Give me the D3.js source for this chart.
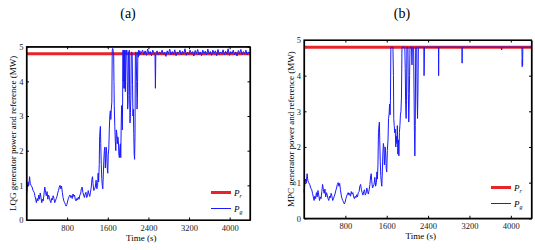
<!DOCTYPE html>
<html>
<head>
<meta charset="utf-8">
<script src="https://cdn.jsdelivr.net/npm/d3@7"></script>
<style>
  body { margin: 0; background: #fff; }
  svg, svg text { font-family: "Liberation Serif", "Tinos", "DejaVu Serif", serif; }
</style>
</head>
<body>
<svg id="chart" width="535" height="250"></svg>
<script>
// reference power (MW)
var refPower = 4.8;
var xTicks = [800, 1600, 2400, 3200, 4000];
var yTicks = [0, 1, 2, 3, 4, 5];

// low wind part, same in both runs
var lowTime = [0, 15, 30, 45, 60, 75, 90, 110, 130, 150, 165, 180, 195, 210, 225, 240, 255, 270, 285, 300,
  315, 330, 345, 360, 375, 390, 405, 420, 435, 450, 465, 480, 495, 510, 525, 540, 555, 570, 585, 600,
  615, 630, 645, 660, 675, 690, 705, 720, 735, 750, 765, 780, 795, 810, 825, 840, 855, 870, 885, 900,
  915, 930, 945, 960, 975, 990, 1005, 1020, 1035, 1050, 1065, 1080, 1095, 1110, 1125, 1140, 1155, 1170,
  1185, 1200, 1215, 1230, 1245, 1260, 1275, 1290, 1300, 1310, 1325, 1340, 1355, 1370, 1385];
var lowPower = [0.72, 0.95, 1.1, 1.0, 1.25, 1.05, 1.0, 0.95, 0.85, 0.8, 0.7, 0.6, 0.5, 0.62, 0.55, 0.72, 0.6, 0.78, 0.65, 0.5,
  0.6, 0.55, 0.75, 0.95, 0.8, 0.7, 0.82, 0.6, 0.72, 0.65, 0.55, 0.5, 0.62, 0.58, 0.7, 0.62, 0.5, 0.55, 0.62, 0.68,
  0.78, 0.85, 0.95, 1.0, 0.9, 0.98, 0.8, 0.65, 0.55, 0.5, 0.45, 0.4, 0.45, 0.55, 0.62, 0.68, 0.72, 0.65, 0.7, 0.62,
  0.75, 0.68, 0.72, 0.6, 0.55, 0.62, 0.58, 0.66, 0.6, 0.72, 0.75, 0.9, 0.95, 0.8, 0.72, 0.65, 0.75, 0.8,
  0.65, 0.7, 0.85, 0.75, 0.68, 0.8, 0.95, 1.2, 1.25, 1.05, 0.85, 0.9, 0.95, 1.15, 0.9];

// LQG run, after the low wind part
var lqgTime = [1400, 1410, 1420, 1432, 1440, 1448, 1455, 1462, 1472, 1482, 1492, 1502, 1512, 1522, 1532, 1542, 1552, 1560,
  1570, 1580, 1590, 1600, 1610, 1620, 1630, 1640, 1650, 1660, 1670, 1680, 1688, 1698, 1708, 1716, 1722, 1728, 1738,
  1748, 1758, 1768, 1778, 1788, 1798, 1808, 1818, 1828, 1838, 1848, 1856, 1864, 1872, 1880, 1886, 1892, 1900, 1906,
  1912, 1918, 1924, 1930, 1938, 1946, 1954, 1960, 1968, 1976, 1984, 1992, 2000, 2008, 2016, 2024, 2030, 2038, 2046,
  2054, 2062, 2072, 2080, 2088, 2096, 2104, 2112, 2120, 2128, 2136, 2144, 2152, 2160, 2168, 2176, 2184, 2192, 2200,
  2210, 2220, 2232, 2245, 2260, 2285, 2310, 2335, 2360, 2385, 2410, 2435, 2460, 2485, 2510, 2530, 2538, 2546, 2570,
  2595, 2620, 2645, 2670, 2695, 2720, 2745, 2770, 2795, 2820, 2845, 2870, 2895, 2920, 2945, 2970, 2995, 3020, 3045,
  3070, 3095, 3120, 3145, 3170, 3195, 3220, 3245, 3270, 3295, 3320, 3345, 3370, 3395, 3420, 3445, 3470, 3495, 3520,
  3545, 3570, 3595, 3620, 3645, 3670, 3695, 3720, 3745, 3770, 3795, 3820, 3845, 3870, 3895, 3920, 3945, 3970, 3995,
  4020, 4045, 4070, 4095, 4120, 4145, 4170, 4195, 4220, 4245, 4270, 4295, 4320, 4345, 4370, 4400];
var lqgPower = [1.0, 1.35, 1.1, 1.6, 2.4, 2.6, 2.7, 2.2, 1.6, 1.2, 1.0, 0.9, 1.3, 1.7, 2.0, 2.1, 1.5, 1.8,
  2.1, 1.9, 1.5, 1.35, 1.9, 2.05, 2.6, 3.0, 3.15, 2.9, 3.2, 3.4, 4.9, 4.95, 4.85, 4.8, 4.0, 3.3, 2.7,
  2.3, 2.0, 2.6, 2.5, 2.2, 2.4, 2.3, 1.9, 1.8, 2.1, 2.2, 1.8, 2.7, 3.3, 3.0, 2.6, 3.4, 4.9, 4.0,
  4.9, 3.8, 4.9, 3.8, 4.9, 3.7, 4.5, 4.9, 4.8, 4.9, 4.0, 3.2, 3.4, 4.85, 4.8, 4.9, 3.6, 2.8, 3.1,
  3.5, 4.8, 4.85, 4.8, 3.9, 3.0, 3.2, 2.5, 1.9, 1.75, 2.4, 4.8, 4.85, 4.8, 4.0, 3.2, 3.5, 4.85, 4.7,
  4.9, 4.75, 4.88, 4.78, 4.82, 4.9, 4.78, 4.88, 4.75, 4.93, 4.8, 4.86, 4.74, 4.9, 4.82, 4.78, 3.8, 4.8, 4.88,
  4.76, 4.85, 4.79, 4.9, 4.77, 4.84, 4.72, 4.88, 4.8, 4.93, 4.76, 4.86, 4.78, 4.91, 4.74, 4.85, 4.8, 4.9, 4.76,
  4.87, 4.79, 4.94, 4.75, 4.84, 4.78, 4.9, 4.8, 4.86, 4.73, 4.89, 4.8, 4.92, 4.77, 4.85, 4.74, 4.9, 4.8, 4.87,
  4.76, 4.93, 4.79, 4.86, 4.75, 4.9, 4.81, 4.88, 4.74, 4.92, 4.78, 4.85, 4.8, 4.91, 4.76, 4.87, 4.79, 4.94, 4.75,
  4.86, 4.8, 4.9, 4.77, 4.85, 4.73, 4.89, 4.8, 4.92, 4.77, 4.86, 4.79, 4.9, 4.76, 4.85, 4.8];

// MPC run, after the low wind part
var mpcTime = [1400, 1410, 1420, 1430, 1440, 1450, 1458, 1465, 1475, 1485, 1495, 1505, 1515, 1525, 1535, 1545, 1555, 1562,
  1570, 1580, 1590, 1600, 1612, 1625, 1635, 1645, 1655, 1665, 1672, 1680, 1720, 1730, 1736, 1745, 1755, 1765, 1775,
  1785, 1795, 1805, 1815, 1825, 1835, 1845, 1855, 1865, 1875, 1885, 1895, 1950, 1958, 1966, 1975, 1983, 1990, 2010,
  2018, 2026, 2034, 2042, 2050, 2080, 2088, 2096, 2120, 2128, 2136, 2144, 2152, 2160, 2180, 2188, 2196, 2204, 2212,
  2235, 2318, 2322, 2326, 2330, 2600, 2604, 2608, 3055, 3058, 3061, 3820, 3823, 3826, 4215, 4220, 4224, 4228, 4232, 4400];
var mpcPower = [1.0, 1.3, 1.1, 1.5, 2.4, 2.6, 2.7, 2.2, 1.6, 1.2, 1.0, 0.9, 1.3, 1.8, 2.1, 2.0, 1.5, 1.7,
  2.0, 1.8, 1.4, 1.3, 1.9, 2.2, 2.8, 2.9, 3.2, 2.9, 3.3, 4.8, 4.8, 4.0, 2.8, 2.6, 2.4, 2.5, 2.0,
  2.3, 2.1, 2.6, 1.8, 2.2, 1.75, 2.4, 2.6, 2.9, 3.0, 3.4, 4.8, 4.8, 4.2, 3.2, 2.8, 3.3, 4.8, 4.8,
  3.5, 2.7, 3.2, 4.0, 4.8, 4.8, 4.3, 4.8, 4.8, 3.6, 2.4, 1.75, 2.6, 4.8, 4.8, 3.4, 2.8, 3.6, 4.8,
  4.8, 4.8, 4.0, 4.3, 4.8, 4.8, 4.0, 4.8, 4.8, 4.35, 4.8, 4.8, 4.72, 4.8, 4.8, 4.25, 4.45, 4.3, 4.8, 4.8];

var svg = d3.select("#chart");
var serif = "'Liberation Serif', Tinos, 'DejaVu Serif', serif";

function drawPanel(opt) {
    var m = opt.box;
    var x = d3.scaleLinear().domain([0, 4400]).range([m.left, m.right]);
    var y = d3.scaleLinear().domain([0, 5]).range([m.bottom, m.top]);
    var g = svg.append("g").attr("font-family", serif);

    // panel caption
    g.append("text")
        .attr("x", opt.captionX).attr("y", 18)
        .attr("text-anchor", "middle")
        .attr("font-size", 14)
        .text(opt.caption);

    // reference line first, generator power on top
    g.append("line")
        .attr("x1", x(0)).attr("x2", x(4400))
        .attr("y1", y(refPower)).attr("y2", y(refPower))
        .attr("stroke", "#e8232a").attr("stroke-width", 3);

    var times = lowTime.concat(opt.time);
    var power = lowPower.concat(opt.power);
    var line = d3.line()
        .x(function(d, i) { return x(times[i]); })
        .y(function(d) { return y(d); });
    g.append("path")
        .datum(power)
        .attr("d", line)
        .attr("fill", "none")
        .attr("stroke", "#1a1aff")
        .attr("stroke-width", 1)
        .attr("stroke-linejoin", "round");

    // axes, matlab style ticks inside
    var fmt = d3.format("d");
    g.append("g")
        .attr("transform", "translate(0," + m.bottom + ")")
        .call(d3.axisBottom(x).tickValues(xTicks).tickFormat(fmt).tickSize(-2.5).tickPadding(5).tickSizeOuter(0));
    g.append("g")
        .attr("transform", "translate(0," + m.top + ")")
        .call(d3.axisTop(x).tickValues(xTicks).tickSize(-2.5).tickFormat("").tickSizeOuter(0));
    g.append("g")
        .attr("transform", "translate(" + m.left + ",0)")
        .call(d3.axisLeft(y).tickValues(yTicks).tickFormat(fmt).tickSize(-2.5).tickPadding(3).tickSizeOuter(0));
    g.append("g")
        .attr("transform", "translate(" + m.right + ",0)")
        .call(d3.axisRight(y).tickValues(yTicks).tickSize(-2.5).tickFormat("").tickSizeOuter(0));
    g.selectAll("g").attr("font-family", serif);
    g.selectAll(".domain").attr("stroke", "#000").attr("stroke-width", 1.2);
    g.selectAll(".tick line").attr("stroke", "#000");
    g.selectAll(".tick text")
        .attr("font-size", 8.5)
        .attr("fill", "#222");

    g.append("rect")
        .attr("x", m.left).attr("y", m.top)
        .attr("width", m.right - m.left).attr("height", m.bottom - m.top)
        .attr("fill", "none").attr("stroke", "#000").attr("stroke-width", 1.2);

    // axis titles
    g.append("text")
        .attr("x", (m.left + m.right) / 2 + 3).attr("y", m.bottom + 21)
        .attr("text-anchor", "middle")
        .attr("font-size", 9)
        .text("Time (s)");
    g.append("text")
        .attr("transform", "translate(" + (m.left - 10.5) + "," + ((m.top + m.bottom) / 2) + ") rotate(-90)")
        .attr("text-anchor", "middle")
        .attr("font-size", 9)
        .text(opt.yLabel);

    // legend
    var lg = g.append("g").attr("transform", "translate(" + opt.legend[0] + "," + opt.legend[1] + ")");
    lg.append("line").attr("x1", 0).attr("x2", 20).attr("y1", 0).attr("y2", 0)
        .attr("stroke", "#e8232a").attr("stroke-width", 3);
    lg.append("line").attr("x1", 0).attr("x2", 20).attr("y1", 16).attr("y2", 16)
        .attr("stroke", "#1a1aff").attr("stroke-width", 1);
    var names = ["r", "g"];
    names.forEach(function(s, i) {
        var t = lg.append("text").attr("x", 23).attr("y", i * 16 + 3)
            .attr("font-size", 9).attr("font-style", "italic");
        t.append("tspan").text("P");
        t.append("tspan").attr("dy", 2.5).attr("font-size", 6).text(s);
    });
}

drawPanel({
    box: { left: 26.5, right: 250, top: 46.7, bottom: 220 },
    caption: "(a)", captionX: 128,
    yLabel: "LQG generator power and reference (MW)",
    time: lqgTime, power: lqgPower,
    legend: [211, 192.5]
});

drawPanel({
    box: { left: 304, right: 531.5, top: 40, bottom: 218.3 },
    caption: "(b)", captionX: 402,
    yLabel: "MPC generator power and reference (MW)",
    time: mpcTime, power: mpcPower,
    legend: [491, 187.5]
});
</script>
</body>
</html>
